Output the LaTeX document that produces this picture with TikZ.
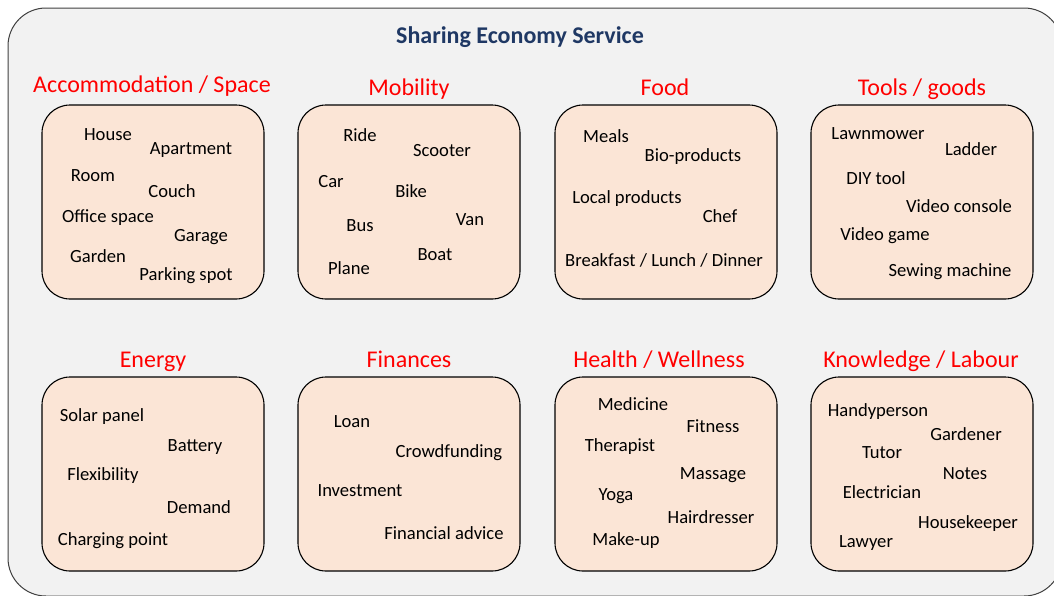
\documentclass[tikz,border=0pt]{standalone}
\usepackage{fontspec}
\setmainfont{Carlito}
\definecolor{outerfill}{HTML}{F2F2F2}
\definecolor{outerline}{HTML}{404040}
\definecolor{peach}{HTML}{FBE5D6}
\definecolor{titleblue}{HTML}{1F3864}
\definecolor{headred}{HTML}{FF0000}
\tikzset{
  outerbox/.style={draw=outerline, fill=outerfill, line width=1pt, rounded corners=38pt},
  catbox/.style={draw=black, fill=peach, line width=1.1pt, rounded corners=28pt},
  titletext/.style={font=\fontsize{24}{28}\selectfont\bfseries, text=titleblue, inner sep=0pt, text height=0.64em, text depth=0pt, yshift=-5pt},
  headtext/.style={font=\fontsize{24}{28}\selectfont, text=headred, inner sep=0pt, text height=0.64em, text depth=0pt, yshift=-5pt},
  itemtext/.style={font=\fontsize{18.6}{22}\selectfont, text=black, inner sep=0pt, text height=0.64em, text depth=0pt, yshift=-3pt},
}
\begin{document}
\begin{tikzpicture}[x=1pt,y=-1pt]
\useasboundingbox (0,0) rectangle (1054,595);
\clip (0,0) rectangle (1054,595);
\path[outerbox] (8,8) rectangle (1062,596);
\node[titletext] (title) at (520,35) {Sharing Economy Service};
% boxes top row
\path[catbox] (42,105) rectangle (264,299);
\path[catbox] (298,105) rectangle (520,299);
\path[catbox] (555,105) rectangle (777,299);
\path[catbox] (811,105) rectangle (1033,299);
% boxes bottom row
\path[catbox] (42,377) rectangle (264,571);
\path[catbox] (298,377) rectangle (520,571);
\path[catbox] (555,377) rectangle (777,571);
\path[catbox] (811,377) rectangle (1033,571);
% headers
\node[headtext] (h1) at (152,84) {Accommodation / Space};
\node[headtext] (h2) at (409,87) {Mobility};
\node[headtext] (h3) at (665,87) {Food};
\node[headtext] (h4) at (922,87) {Tools / goods};
\node[headtext] (h5) at (153,359) {Energy};
\node[headtext] (h6) at (409,359) {Finances};
\node[headtext] (h7) at (659,359) {Health / Wellness};
\node[headtext] (h8) at (921,359) {Knowledge / Labour};
% box 1
\node[itemtext] (a1) at (108,134) {House};
\node[itemtext] (a2) at (191,148) {Apartment};
\node[itemtext] (a3) at (93,175) {Room};
\node[itemtext] (a4) at (172,191) {Couch};
\node[itemtext] (a5) at (108,216) {Office space};
\node[itemtext] (a6) at (201,235) {Garage};
\node[itemtext] (a7) at (98,256) {Garden};
\node[itemtext] (a8) at (186,274) {Parking spot};
% box 2
\node[itemtext] (b1) at (360,135) {Ride};
\node[itemtext] (b2) at (442,150) {Scooter};
\node[itemtext] (b3) at (331,181) {Car};
\node[itemtext] (b4) at (411,191) {Bike};
\node[itemtext] (b5) at (360,225) {Bus};
\node[itemtext] (b6) at (470,219) {Van};
\node[itemtext] (b7) at (435,254) {Boat};
\node[itemtext] (b8) at (349,268) {Plane};
% box 3
\node[itemtext] (c1) at (606,136) {Meals};
\node[itemtext] (c2) at (693,155) {Bio-products};
\node[itemtext] (c3) at (627,197) {Local products};
\node[itemtext] (c4) at (720,216) {Chef};
\node[itemtext] (c5) at (664,260) {Breakfast / Lunch / Dinner};
% box 4
\node[itemtext] (d1) at (878,133) {Lawnmower};
\node[itemtext] (d2) at (971,149) {Ladder};
\node[itemtext] (d3) at (876,178) {DIY tool};
\node[itemtext] (d4) at (959,206) {Video console};
\node[itemtext] (d5) at (885,234) {Video game};
\node[itemtext] (d6) at (950,270) {Sewing machine};
% box 5
\node[itemtext] (e1) at (102,415) {Solar panel};
\node[itemtext] (e2) at (195,445) {Battery};
\node[itemtext] (e3) at (103,474) {Flexibility};
\node[itemtext] (e4) at (199,507) {Demand};
\node[itemtext] (e5) at (113,539) {Charging point};
% box 6
\node[itemtext] (f1) at (352,421) {Loan};
\node[itemtext] (f2) at (449,451) {Crowdfunding};
\node[itemtext] (f3) at (360,490) {Investment};
\node[itemtext] (f4) at (444,533) {Financial advice};
% box 7
\node[itemtext] (g1) at (633,404) {Medicine};
\node[itemtext] (g2) at (713,426) {Fitness};
\node[itemtext] (g3) at (620,445) {Therapist};
\node[itemtext] (g4) at (713,473) {Massage};
\node[itemtext] (g5) at (616,494) {Yoga};
\node[itemtext] (g6) at (711,517) {Hairdresser};
\node[itemtext] (g7) at (626,539) {Make-up};
% box 8
\node[itemtext] (k1) at (878,410) {Handyperson};
\node[itemtext] (k2) at (966,434) {Gardener};
\node[itemtext] (k3) at (882,452) {Tutor};
\node[itemtext] (k4) at (965,473) {Notes};
\node[itemtext] (k5) at (882,492) {Electrician};
\node[itemtext] (k6) at (968,522) {Housekeeper};
\node[itemtext] (k7) at (866,541) {Lawyer};
\end{tikzpicture}
\end{document}
